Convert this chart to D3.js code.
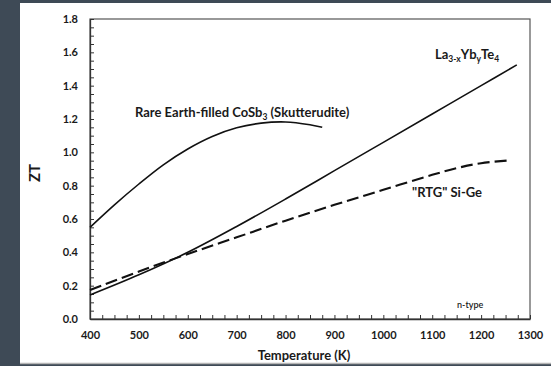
<!DOCTYPE html>
<html>
<head>
<meta charset="utf-8">
<script src="https://cdnjs.cloudflare.com/ajax/libs/d3/7.8.5/d3.min.js"></script>
<style>
    body { margin: 0; background: #3e4a56; }
    svg { display: block; }
    text { font-family: Lato, "Open Sans", sans-serif; fill: #1a1a1a; }
    .axis text { font-size: 11px; font-weight: bold; }
    .axis line, .axis path { stroke: #333; }
    .curve { fill: none; stroke: #111; }
    .label { font-size: 13px; font-weight: bold; }
</style>
</head>
<body>
<script>
var WIDTH = 551, HEIGHT = 366;
var MARGIN = {left: 90, right: 21, top: 19, bottom: 47};

// values
var skut_temps = [400, 450, 500, 550, 600, 650, 700, 750, 800, 850, 875];
var skut_zt = [0.55, 0.685, 0.81, 0.925, 1.02, 1.095, 1.147, 1.175, 1.182, 1.165, 1.15];

var la_temps = [400, 500, 600, 700, 800, 900, 1000, 1100, 1200, 1273];
var la_zt = [0.144, 0.265, 0.40, 0.555, 0.72, 0.89, 1.06, 1.23, 1.40, 1.525];

var sige_temps = [400, 500, 600, 700, 800, 900, 1000, 1100, 1150, 1200, 1260];
var sige_zt = [0.174, 0.285, 0.39, 0.49, 0.59, 0.685, 0.775, 0.865, 0.905, 0.935, 0.952];

var x_ticks = [400, 500, 600, 700, 800, 900, 1000, 1100, 1200, 1300];
var y_ticks = [0, 0.2, 0.4, 0.6, 0.8, 1.0, 1.2, 1.4, 1.6, 1.8];

var svg = d3.select('body').append('svg')
    .attr('width', WIDTH)
    .attr('height', HEIGHT);

// white panel on the dark slide
svg.append('rect')
    .attr('x', 20).attr('y', 3)
    .attr('width', WIDTH - 20).attr('height', 360)
    .attr('fill', '#fff');
svg.append('line')
    .attr('x1', 20).attr('x2', WIDTH)
    .attr('y1', 363.5).attr('y2', 363.5)
    .attr('stroke', '#b5b5b5').attr('stroke-width', 1.5);

var draw_w = WIDTH - MARGIN.left - MARGIN.right;
var draw_h = HEIGHT - MARGIN.top - MARGIN.bottom;

var g = svg.append('g')
    .attr('transform', 'translate(' + MARGIN.left + ',' + MARGIN.top + ')');

var scale_x = d3.scaleLinear().domain([400, 1300]).range([0, draw_w]);
var scale_y = d3.scaleLinear().domain([0, 1.8]).range([draw_h, 0]);

// frame
g.append('rect')
    .attr('width', draw_w).attr('height', draw_h)
    .attr('fill', 'none').attr('stroke', '#555').attr('stroke-width', 1.2);

// minor + major ticks, all pointing inside
var minor_x = d3.range(400, 1301, 25);
var minor_y = d3.range(0, 1.8001, 0.05);

var axis_x = d3.axisBottom(scale_x)
    .tickValues(minor_x)
    .tickSizeInner(-4)
    .tickSizeOuter(0)
    .tickPadding(12)
    .tickFormat(function(d) { return x_ticks.indexOf(d) >= 0 ? d : ''; });
g.append('g').attr('class', 'axis')
    .attr('transform', 'translate(0,' + draw_h + ')')
    .call(axis_x);

var axis_y = d3.axisLeft(scale_y)
    .tickValues(minor_y)
    .tickSizeInner(-4)
    .tickSizeOuter(0)
    .tickPadding(12)
    .tickFormat(function(d) {
        var hit = y_ticks.some(function(t) { return Math.abs(t - d) < 1e-6; });
        return hit ? d3.format('.1f')(d) : '';
    });
g.append('g').attr('class', 'axis').call(axis_y);

g.selectAll('.axis path').attr('stroke-width', 1.3);

// curves
var line = d3.line()
    .x(function(d) { return scale_x(d[0]); })
    .y(function(d) { return scale_y(d[1]); })
    .curve(d3.curveCatmullRom.alpha(0.5));

g.append('path')
    .attr('class', 'curve')
    .attr('stroke-width', 1.6)
    .attr('d', line(d3.zip(skut_temps, skut_zt)));
g.append('path')
    .attr('class', 'curve')
    .attr('stroke-width', 1.6)
    .attr('d', line(d3.zip(la_temps, la_zt)));
g.append('path')
    .attr('class', 'curve')
    .attr('stroke-width', 2.1)
    .attr('stroke-dasharray', '12,5')
    .attr('d', line(d3.zip(sige_temps, sige_zt)));

// annotations
var skut_label = svg.append('text').attr('class', 'label')
    .attr('x', 135).attr('y', 116.5);
skut_label.append('tspan').text('Rare Earth-filled CoSb');
skut_label.append('tspan').attr('dy', 3).attr('font-size', '8.5px').text('3');
skut_label.append('tspan').attr('dy', -3).text(' (Skutterudite)');

var la_label = svg.append('text').attr('class', 'label')
    .attr('x', 435).attr('y', 59);
la_label.append('tspan').text('La');
la_label.append('tspan').attr('dy', 3).attr('font-size', '8.5px').text('3-x');
la_label.append('tspan').attr('dy', -3).text('Yb');
la_label.append('tspan').attr('dy', 3).attr('font-size', '8.5px').text('y');
la_label.append('tspan').attr('dy', -3).text('Te');
la_label.append('tspan').attr('dy', 3).attr('font-size', '8.5px').text('4');

svg.append('text').attr('class', 'label')
    .attr('x', 412).attr('y', 196.5)
    .text('"RTG" Si-Ge');

svg.append('text')
    .attr('x', 457).attr('y', 308)
    .attr('font-size', '9px')
    .attr('font-weight', 600)
    .text('n-type');

// axis titles
svg.append('text')
    .attr('x', 304).attr('y', 360)
    .attr('text-anchor', 'middle')
    .attr('font-size', '13px').attr('font-weight', 'bold')
    .text('Temperature (K)');

svg.append('text')
    .attr('transform', 'translate(40,173) rotate(-90)')
    .attr('text-anchor', 'middle')
    .attr('font-size', '15px').attr('font-weight', 'bold')
    .text('ZT');
</script>
</body>
</html>
